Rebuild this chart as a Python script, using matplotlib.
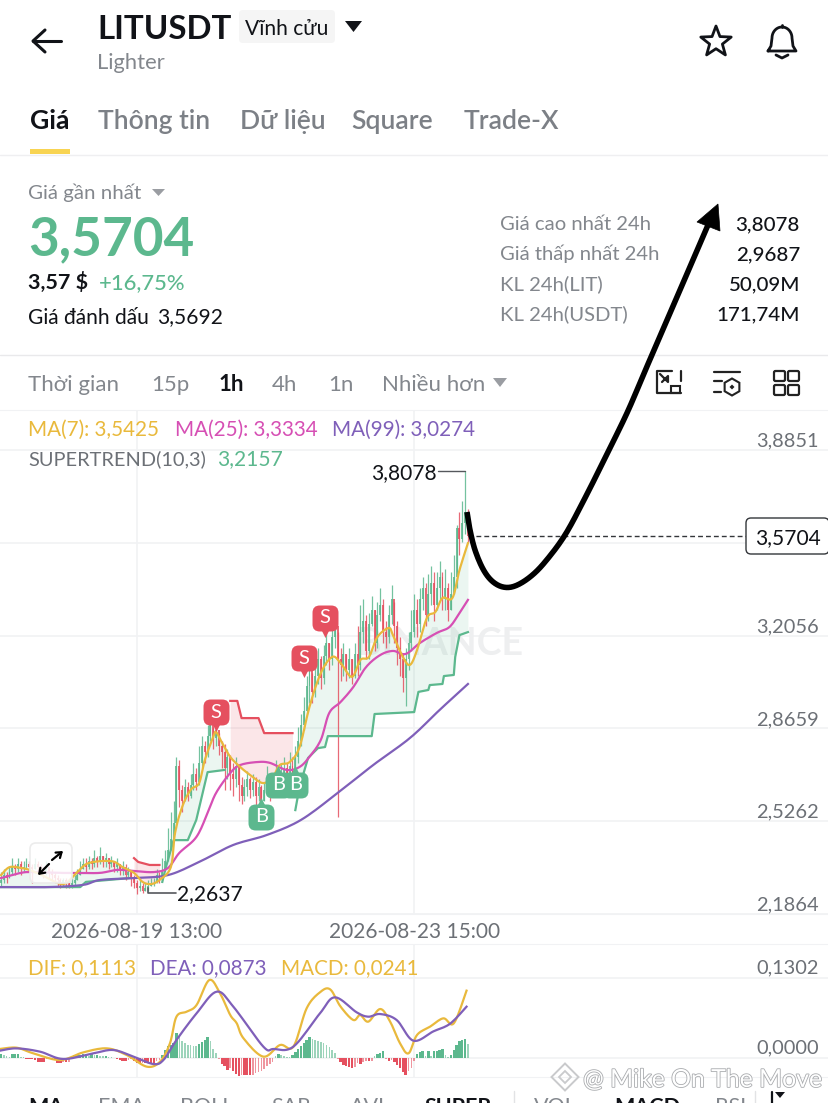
import matplotlib
matplotlib.use("Agg")
import numpy as np
import matplotlib.pyplot as plt
from matplotlib.patches import FancyBboxPatch, Rectangle, Polygon, RegularPolygon, BoxStyle
from matplotlib.path import Path
import matplotlib.patheffects as pe

plt.rcParams['font.family'] = ['Lato', 'Noto Sans', 'DejaVu Sans']

closes = [2.31,2.33,2.32,2.34,2.36,2.35,2.37,2.35,2.36,2.37,
2.36,2.35,2.37,2.36,2.35,2.34,2.36,2.34,2.33,2.32,
2.31,2.30,2.31,2.30,2.29,2.30,2.31,2.33,2.35,2.37,
2.36,2.38,2.37,2.39,2.38,2.40,2.38,2.39,2.37,2.38,
2.36,2.37,2.35,2.36,2.33,2.34,2.32,2.30,2.28,2.29,
2.27,2.28,2.29,2.30,2.30,2.33,2.32,2.34,2.38,2.42,
2.46,2.52,2.73,2.64,2.60,2.65,2.62,2.66,2.70,2.67,
2.74,2.80,2.78,2.84,2.88,2.83,2.86,2.80,2.78,2.72,
2.76,2.70,2.68,2.73,2.66,2.62,2.65,2.68,2.64,2.67,
2.62,2.65,2.60,2.64,2.68,2.63,2.66,2.70,2.66,2.70,
2.72,2.68,2.73,2.70,2.76,2.82,2.88,2.93,3.02,3.08,
3.00,3.06,3.12,3.05,3.13,3.18,3.12,3.20,3.24,3.12,
3.10,3.14,3.08,3.12,3.06,3.14,3.10,3.22,3.26,3.15,
3.25,3.30,3.18,3.28,3.32,3.22,3.20,3.28,3.34,3.24,
3.16,3.12,3.05,3.12,3.18,3.22,3.30,3.25,3.34,3.38,
3.28,3.36,3.40,3.32,3.38,3.42,3.34,3.38,3.30,3.36,
3.42,3.60,3.56,3.62,3.66,3.57]
highs = [2.34,2.35,2.34,2.36,2.39,2.37,2.39,2.38,2.38,2.39,
2.38,2.37,2.39,2.38,2.37,2.36,2.38,2.36,2.35,2.34,
2.33,2.32,2.32,2.32,2.31,2.32,2.33,2.35,2.38,2.39,
2.39,2.40,2.39,2.42,2.40,2.43,2.40,2.41,2.39,2.40,
2.38,2.39,2.37,2.38,2.37,2.36,2.34,2.33,2.31,2.31,
2.30,2.30,2.31,2.32,2.32,2.35,2.34,2.39,2.42,2.50,
2.56,2.60,2.76,2.75,2.66,2.68,2.67,2.70,2.74,2.72,
2.80,2.84,2.82,2.88,2.90,2.87,2.89,2.85,2.82,2.81,
2.79,2.77,2.74,2.76,2.73,2.69,2.68,2.71,2.69,2.70,
2.69,2.68,2.66,2.67,2.73,2.68,2.70,2.75,2.71,2.74,
2.76,2.74,2.78,2.76,2.80,2.87,2.92,2.98,3.06,3.12,
3.07,3.11,3.16,3.13,3.17,3.23,3.18,3.24,3.30,3.22,
3.16,3.18,3.14,3.16,3.12,3.18,3.24,3.32,3.34,3.28,
3.29,3.35,3.30,3.33,3.38,3.34,3.26,3.32,3.39,3.33,
3.26,3.20,3.14,3.16,3.22,3.30,3.36,3.34,3.38,3.42,
3.40,3.43,3.46,3.44,3.44,3.48,3.44,3.45,3.40,3.44,
3.50,3.61,3.66,3.70,3.8078,3.67]
lows = [2.29,2.30,2.30,2.32,2.33,2.33,2.34,2.33,2.34,2.35,
2.34,2.30,2.35,2.34,2.33,2.32,2.33,2.32,2.31,2.30,
2.29,2.28,2.29,2.28,2.28,2.28,2.29,2.31,2.33,2.35,
2.34,2.35,2.35,2.36,2.36,2.37,2.36,2.36,2.35,2.36,
2.34,2.34,2.33,2.33,2.31,2.32,2.29,2.28,2.26,2.27,
2.2637,2.27,2.27,2.29,2.29,2.30,2.30,2.31,2.35,2.38,
2.42,2.48,2.50,2.58,2.56,2.60,2.60,2.61,2.64,2.64,
2.66,2.72,2.74,2.76,2.82,2.79,2.80,2.77,2.72,2.64,
2.68,2.64,2.62,2.65,2.60,2.59,2.60,2.62,2.61,2.62,
2.58,2.60,2.57,2.60,2.62,2.60,2.62,2.64,2.63,2.65,
2.66,2.65,2.67,2.66,2.70,2.74,2.80,2.86,2.92,2.96,
2.96,2.98,3.03,3.01,3.03,3.10,3.08,3.10,3.16,2.54,
3.04,3.06,3.04,3.05,3.03,3.05,3.06,3.08,3.18,3.12,
3.12,3.24,3.15,3.16,3.26,3.18,3.16,3.18,3.25,3.18,
3.10,3.06,3.00,2.95,3.08,3.15,3.20,3.20,3.22,3.30,
3.24,3.26,3.32,3.26,3.30,3.34,3.30,3.30,3.26,3.30,
3.36,3.38,3.50,3.55,3.58,3.55]

ma7_i = [0,3,7,10,15,20,23,27,31,39,43,47,50,53,56,60,61.5,64,67,70,72,75,76,78,81,84.5,88,92.5,96,98.5,102,105.5,109,113,117,120,124,127,130,133,137,138.5,142,144.5,147,150.5,153.5,156,159.5,162,165]
ma7_p = [2.329,2.358,2.355,2.348,2.326,2.300,2.300,2.340,2.373,2.380,2.358,2.337,2.304,2.296,2.311,2.358,2.483,2.578,2.641,2.666,2.750,2.835,2.853,2.816,2.762,2.725,2.696,2.666,2.688,2.732,2.743,2.798,2.945,3.069,3.128,3.106,3.055,3.117,3.128,3.201,3.234,3.208,3.128,3.099,3.153,3.271,3.293,3.344,3.344,3.446,3.545]
ma25_i = [0,7,11,20,27,35,41,47,54,59,63,69,73,76,81,84.5,90.5,95,101,105.5,109,113,116,120,124.5,129,134,138.5,143,148,154,158.5,162,165]
ma25_p = [2.318,2.337,2.340,2.337,2.337,2.337,2.348,2.344,2.340,2.355,2.410,2.468,2.556,2.630,2.703,2.732,2.743,2.740,2.714,2.725,2.762,2.824,2.923,2.963,3.018,3.091,3.135,3.150,3.139,3.179,3.216,3.238,3.289,3.337]
ma99_i = [0,17,29,35,47,59,70,82,94,106,119,131.5,144.5,155,165]
ma99_p = [2.285,2.285,2.293,2.311,2.318,2.329,2.377,2.439,2.476,2.531,2.630,2.732,2.831,2.934,3.029]

st_green = [([0,28,30,45.6],[2.285,2.285,2.304,2.318]),
 ([57,58,61,66,69,73,79],[2.304,2.348,2.457,2.457,2.531,2.706,2.714]),
 ([104,105.5,108.5,112,114.5,115.5,131,132,146,147.5,151,151.5,156,156.5,160,160.5,162,165],
  [2.567,2.652,2.758,2.794,2.798,2.838,2.838,2.919,2.926,3.0,3.007,3.025,3.029,3.058,3.062,3.128,3.208,3.219])]
st_red = [([47,48.5,52.5,56],[2.391,2.377,2.366,2.366]),
 ([81,83.5,85,91,93,103],[2.967,2.967,2.904,2.904,2.849,2.849])]

sell_i = [76, 107, 114.5]
sell_p = [2.926, 3.124, 3.271]
buy_i = [92, 98, 104]
buy_p = [2.542, 2.659, 2.659]

price_ticks = [2.1864, 2.5262, 2.8659, 3.2056, 3.5454, 3.8851]
price_labels = ['2,1864', '2,5262', '2,8659', '3,2056', None, '3,8851']
date_ticks = [48, 146]
date_labels = ['2026-08-19 13:00', '2026-08-23 15:00']
last_price = 3.5704

hist = [.0065,.0054,.0027,.0016,.0065,.0065,.0065,.0016,.0011,-.0011,
-.0016,-.0022,-.0027,-.0071,-.0071,-.0071,-.0022,-.0016,-.0016,-.0022,
-.0076,-.0076,-.0071,-.0071,-.0065,-.0011,.0054,.0054,.0054,.0065,
.0065,.0038,.0065,.0043,.0043,.0033,.0027,.0027,.0022,.0016,
.0005,-.0011,-.0033,-.0043,-.0043,-.0033,-.0022,-.0054,-.0087,-.0087,
-.0076,-.0076,-.0076,-.0076,-.0076,-.0054,-.0027,.0043,.0136,.019,
.0217,.0244,.0407,.0353,.0271,.0244,.0217,.0206,.0195,.019,
.0228,.0261,.0299,.0337,.0271,.0152,.0081,-.0016,-.0098,-.0136,
-.019,-.0163,-.0217,-.0261,-.0299,-.0271,-.0282,-.0282,-.0282,-.0271,
-.025,-.0228,-.0206,-.0185,-.013,-.0098,-.0065,.0027,.0065,.0054,
.0033,.0022,.0011,.0054,.0098,.0141,.019,.0244,.0299,.0337,
.0315,.0299,.0282,.0261,.0239,.0206,.0174,.0136,.0081,-.0016,
-.0065,-.0109,-.0136,-.0152,-.0163,-.0152,-.0081,-.0098,-.0065,-.0043,
-.0054,-.0043,.0027,.0065,.0081,.0109,-.0011,-.0043,-.0033,-.0065,
-.0109,-.0163,-.0228,-.0282,-.0217,-.0163,-.0043,.0065,.0098,.0109,
.0027,.0119,.0027,.0109,.0119,.0136,.0152,.0054,.0016,.0043,
.0136,.0217,.0271,.0299,.0315,.0228]
dif_i = [-.4,5.5,11.4,20.9,29.1,37.4,44.4,51.5,56.2,59.7,62,65.6,69.1,73.6,77.4,81,83.3,85.7,92.7,98.6,103.3,108,112.7,116.3,120,124.5,126.9,129.8,134,137.5,141,144,147,151.6,156.3,160,164.5]
dif_v = [.0147,.0168,.0076,-.0033,.0092,.0157,.0049,-.0141,-.0060,.0239,.0673,.0755,.0863,.1270,.1053,.0700,.0565,.0320,.0022,.0212,.0184,.0809,.1070,.1118,.0836,.0619,.0700,.0592,.0798,.0592,.0239,.0076,.0375,.0510,.0646,.0565,.1097]
dea_i = [-.4,5.5,13.8,22,32.6,39.7,46.8,53.8,57.4,62,69.1,76.2,82.1,92.7,96.3,103.3,112.7,118,125.7,129.8,134,139.8,145.7,152.8,158.7,164.5]
dea_v = [.0119,.0157,.0103,-.0016,.0076,.0130,.0022,-.0098,-.0033,.0293,.0727,.1080,.0836,.0185,.0147,.0184,.0727,.0988,.0743,.0673,.0716,.0619,.0282,.0434,.0559,.0836]
macd_ticks = [0.0, 0.1302]
macd_labels = ['0,0000', '0,1302']

curve_x = [467,470,475,483,492,503,515,530,545,565,585,605,627,645,658,680,708]
curve_y = [512,530,550,569,581,587,586,577,562,535,498,458,413,371,341,290,225]

GREEN = '#5cb88e'; RED = '#e5505f'; YEL = '#e9b93c'; PINK = '#d64fb4'; PUR = '#7f5fb9'
GRID = '#f1f2f4'; GREY = '#83878d'; DARK = '#6c7076'; BLACK = '#111318'

W, H = 829, 1103
fig = plt.figure(figsize=(W/100, H/100), dpi=100, facecolor='white')

def ax_px(x0, y0, x1, y1, **kw):
    return fig.add_axes([x0/W, 1-y1/H, (x1-x0)/W, (y1-y0)/H], **kw)

def xlim_i():
    return (0-1)/2.83, (W-1)/2.83

def smooth(xs, ys, n=10):
    """Catmull-Rom drawing path through the read points."""
    xs = np.asarray(xs, float); ys = np.asarray(ys, float)
    px = np.r_[xs[0], xs, xs[-1]]; py = np.r_[ys[0], ys, ys[-1]]
    t = np.linspace(0, 1, n, endpoint=False)[:, None]
    outx, outy = [], []
    for k in range(1, len(px)-2):
        for arr, out in ((px, outx), (py, outy)):
            a, b, c_, d = arr[k-1], arr[k], arr[k+1], arr[k+2]
            out.append((0.5*(2*b + (c_-a)*t + (2*a-5*b+4*c_-d)*t**2 + (3*b-a-3*c_+d)*t**3)).ravel())
    return np.r_[np.concatenate(outx), xs[-1]], np.r_[np.concatenate(outy), ys[-1]]

# ---------- main chart ----------
ax = ax_px(0, 410, W, 914)
ax.set_xlim(*xlim_i())
ax.set_ylim(2.1864, 2.1864+504/273)
ax.patch.set_alpha(0)
for s in ax.spines.values():
    s.set_visible(False)
ax.spines['bottom'].set_visible(True); ax.spines['bottom'].set_color(GRID)
ax.spines['top'].set_visible(True); ax.spines['top'].set_color(GRID)
ax.set_yticks(price_ticks); ax.set_yticklabels([])
ax.set_xticks(date_ticks); ax.set_xticklabels(date_labels, fontsize=15, color=DARK)
ax.tick_params(length=0, pad=6)
ax.grid(True, color=GRID, lw=1.2, zorder=0)
ax.set_axisbelow(True)
for t, l in zip(price_ticks, price_labels):
    if l:
        ax.annotate(l, (0.988, t), xycoords=ax.get_yaxis_transform(), xytext=(0, 6.5),
                    textcoords='offset points', ha='right', va='center', fontsize=14.4, color=DARK)
ax.text(155, 3.2056-8/273, 'BINANCE', ha='center', va='center', fontsize=27, fontweight='bold', color='#eeeff0', zorder=1)

idx = np.arange(len(closes))
opens = np.r_[2.30, closes[:-1]]
c = np.array(closes); hh = np.array(highs); ll = np.array(lows)
cols = [GREEN if a >= b else RED for a, b in zip(c, opens)]
grid_i = np.arange(0, 165.01, 0.5)
ma7_g = np.interp(grid_i, ma7_i, ma7_p)
for sx, sy in st_green:
    m = (grid_i >= sx[0]) & (grid_i <= sx[-1])
    ax.fill_between(grid_i[m], np.interp(grid_i[m], sx, sy), ma7_g[m], color=GREEN, alpha=0.12, lw=0, zorder=1.5)
for sx, sy in st_red:
    m = (grid_i >= sx[0]) & (grid_i <= sx[-1])
    ax.fill_between(grid_i[m], np.interp(grid_i[m], sx, sy), ma7_g[m], color=RED, alpha=0.14, lw=0, zorder=1.5)
ax.vlines(idx, ll, hh, colors=cols, lw=0.9, zorder=2, alpha=0.85)
ax.bar(idx, np.abs(c-opens), bottom=np.minimum(c, opens), width=0.68, color=cols, zorder=2, alpha=0.85)
for sx, sy in st_green:
    ax.plot(sx, sy, color=GREEN, lw=1.6, zorder=3, solid_joinstyle='round')
for sx, sy in st_red:
    ax.plot(sx, sy, color=RED, lw=1.6, zorder=3)
ax.plot(*smooth(ma99_i, ma99_p), color=PUR, lw=1.6, zorder=4)
ax.plot(*smooth(ma25_i, ma25_p), color=PINK, lw=1.6, zorder=4)
ax.plot(*smooth(ma7_i, ma7_p), color=YEL, lw=1.6, zorder=5)
ax.axhline(last_price, xmin=468/W, xmax=746/W, color='#33363a', lw=1, ls=(0, (3.5, 2.2)), zorder=3)

badge = BoxStyle.Round(pad=0, rounding_size=0.28)(-0.5, -0.5, 1, 1, 1)
for i, p in zip(sell_i, sell_p):
    ax.scatter([i], [p-15/273], marker='v', s=42, color=RED, zorder=8, lw=0)
    ax.scatter([i], [p], marker=badge, s=350, color=RED, zorder=8, lw=0)
    ax.text(i, p, 'S', ha='center', va='center', color='white', fontsize=14.5, zorder=9)
for i, p in zip(buy_i, buy_p):
    ax.scatter([i], [p+15/273], marker='^', s=42, color=GREEN, zorder=8, lw=0)
    ax.scatter([i], [p], marker=badge, s=350, color=GREEN, zorder=8, lw=0)
for i, p in zip(buy_i, buy_p):
    ax.text(i, p, 'B', ha='center', va='center', color='white', fontsize=14.5, zorder=10)

# ---------- MACD ----------
am = ax_px(0, 944, W, 1077)
am.set_xlim(*xlim_i())
am.set_ylim(-19/614, 114/614)
am.patch.set_alpha(0)
for s in am.spines.values():
    s.set_visible(False)
am.spines['top'].set_visible(True); am.spines['top'].set_color(GRID)
am.spines['bottom'].set_visible(True); am.spines['bottom'].set_color(GRID)
am.set_yticks(macd_ticks); am.set_yticklabels([])
am.set_xticks(date_ticks); am.set_xticklabels([])
am.tick_params(length=0)
am.grid(True, color=GRID, lw=1.2, zorder=0)
am.set_axisbelow(True)
for t, l in zip(macd_ticks, macd_labels):
    am.annotate(l, (0.988, t), xycoords=am.get_yaxis_transform(), xytext=(0, 7.5),
                textcoords='offset points', ha='right', va='center', fontsize=14.4, color=DARK)
hv = np.array(hist)
prev = np.r_[0, hv[:-1]]
for i, v, pv in zip(idx, hv, prev):
    col = GREEN if v >= 0 else RED
    grow = abs(v) >= abs(pv)
    am.bar(i, v, width=0.85 if grow else 0.55, color=col, alpha=1 if grow else 0.6, zorder=2)
am.plot(*smooth(dif_i, dif_v), color=YEL, lw=1.6, zorder=4)
am.plot(*smooth(dea_i, dea_v), color=PUR, lw=1.6, zorder=5)

# ---------- overlay in pixels ----------
ov = fig.add_axes([0, 0, 1, 1])
ov.set_xlim(0, W); ov.set_ylim(H, 0); ov.axis('off'); ov.patch.set_alpha(0)

def T(x, y, s, px, color=BLACK, weight='normal', ha='left', **kw):
    # y is the middle of the capitals; text sits on its baseline
    return ov.text(x, y+0.36*px, s, fontsize=px*0.72, color=color, fontweight=weight, ha=ha, va='baseline', **kw)

def L(xs, ys, color=BLACK, lw=1.5, **kw):
    ov.plot(xs, ys, color=color, lw=lw, solid_capstyle='round', solid_joinstyle='round', **kw)

# header
L([33, 61], [41, 41], lw=2.2); L([45, 33, 45], [30, 41, 52], lw=2.2)
T(97, 27, 'LITUSDT', 33, weight='bold')
ov.add_patch(FancyBboxPatch((240, 11), 94, 31, boxstyle='round,pad=1,rounding_size=4', fc='#f5f5f5', ec='none'))
T(287, 27, 'Vĩnh cửu', 21, ha='center')
ov.add_patch(Polygon([(345, 21), (362, 21), (353.5, 32)], fc=BLACK, ec='none'))
T(97, 61, 'Lighter', 22, color=GREY)
star = Path.unit_regular_star(5, 0.42).vertices
ov.add_patch(Polygon(np.c_[716+16*star[:, 0], 42-16*star[:, 1]], fc='none', ec=BLACK, lw=2, joinstyle='round'))
th = np.linspace(np.pi, 0, 30)
bx = np.r_[768, 771, 782+10*np.cos(th), 793, 796]
by = np.r_[51, 46, 38-11*np.sin(th), 46, 51]
L(np.r_[bx, 768], np.r_[by, 51], lw=2)
L([776, 782, 788], [55, 58, 55], lw=2); L([782, 782], [25, 27], lw=2)

# tabs
T(30, 119, 'Giá', 26.5, weight='bold')
for x, s in [(98, 'Thông tin'), (240, 'Dữ liệu'), (351, 'Square'), (464, 'Trade-X')]:
    T(x, 119, s, 26.5, color='#7c8086', weight='semibold')
ov.add_patch(Rectangle((30, 149), 40, 5, fc='#f8d452', ec='none'))
L([0, W], [154.5, 154.5], color='#efeff1', lw=1)
L([0, W], [354.5, 354.5], color='#e9e9eb', lw=1)

# price
T(28, 192, 'Giá gần nhất', 20.5, color=GREY)
ov.add_patch(Polygon([(152, 189), (165, 189), (158.5, 196)], fc='#9a9da2', ec='none'))
T(28, 236, '3,5704', 53, color=GREEN, weight='bold')
T(28, 281, '3,57 $', 21.5, weight='bold')
T(99, 281, '+16,75%', 22, color=GREEN, weight='medium')
T(28, 316, 'Giá đánh dấu', 21)
T(157, 316, '3,5692', 21)
stat_y = [223, 253, 283, 313]
for y, s, v in zip(stat_y, ['Giá cao nhất 24h', 'Giá thấp nhất 24h', 'KL 24h(LIT)', 'KL 24h(USDT)'],
                   ['3,8078', '2,9687', '50,09M', '171,74M']):
    T(500, y, s, 20.3, color=GREY)
    T(800, y, v, 20.5, ha='right', weight='medium')

# time row
for x, s, col, w in [(28, 'Thời gian', GREY, 'normal'), (151, '15p', GREY, 'normal'), (219, '1h', BLACK, 'bold'),
                     (272, '4h', GREY, 'normal'), (328, '1n', GREY, 'normal'), (382, 'Nhiều hơn', GREY, 'normal')]:
    T(x, 383, s, 22.3, color=col, weight=w)
ov.add_patch(Polygon([(493, 378), (507, 378), (500, 387)], fc='#9a9da2', ec='none'))

# toolbar icons
L([672, 657, 657, 681, 681], [371, 371, 393, 393, 393], lw=1.6, color='#222')
L([681, 681], [371, 381], lw=1.6, color='#222'); L([660, 668, 668, 662], [374, 382, 376, 382], lw=1.6, color='#222')
ov.add_patch(Rectangle((671, 386), 9, 7, fc='white', ec='#222', lw=1.5))
L([714, 740], [372, 372], lw=1.6, color='#222'); L([714, 722], [381, 381], lw=1.6, color='#222'); L([714, 721], [392, 392], lw=1.6, color='#222')
ov.add_patch(RegularPolygon((732, 387), 6, radius=8.5, fc='white', ec='#222', lw=1.5))
ov.add_patch(RegularPolygon((732, 387), 4, radius=2.5, fc='#222', ec='none'))
for gx in (774, 788):
    for gy in (371, 385):
        ov.add_patch(FancyBboxPatch((gx+1, gy+1), 9, 8, boxstyle='round,pad=1,rounding_size=1.5', fc='none', ec='#222', lw=1.6))

# legends
T(28, 428, 'MA(7): 3,5425', 20.7, color=YEL)
T(175, 428, 'MA(25): 3,3334', 20.7, color=PINK)
T(332, 428, 'MA(99): 3,0274', 20.7, color=PUR)
T(28, 458, 'SUPERTREND(10,3)', 20, color=DARK)
T(217, 458, '3,2157', 21, color=GREEN)
T(437, 472, '3,8078', 21, ha='right')
L([438, 465], [471, 471], color='#55585c', lw=1)
L([148, 148, 176], [888, 893, 893], color='#55585c', lw=1.2)
T(177, 893, '2,2637', 21)
T(28, 967, 'DIF: 0,1113', 20.7, color=YEL)
T(150, 967, 'DEA: 0,0873', 20.7, color=PUR)
T(281, 967, 'MACD: 0,0241', 20.7, color=YEL)

# last price tag
ov.add_patch(FancyBboxPatch((747, 519), 81, 34, boxstyle='round,pad=1,rounding_size=5', fc='white', ec='#33363a', lw=1, zorder=6))
T(787.5, 537, '3,5704', 21, ha='center', zorder=7)

# expand icon
ov.add_patch(FancyBboxPatch((31, 844), 40, 38, boxstyle='round,pad=1,rounding_size=6', fc=(1, 1, 1, 0.85), ec='#ececec', lw=1.2, zorder=6))
for (x0, y0, x1, y1) in [(52, 860, 63, 851), (49, 864, 38, 875)]:
    ov.annotate('', (x1, y1), (x0, y0), arrowprops=dict(arrowstyle='->,head_length=0.35,head_width=0.25', lw=1.6, color='black', shrinkA=0, shrinkB=0), zorder=7)

# hand drawn arrow
ov.plot(*smooth(curve_x, curve_y), color='black', lw=4.0, solid_capstyle='butt', solid_joinstyle='round', zorder=10)
ov.add_patch(Polygon([(718, 204), (697, 222), (720, 231)], fc='black', ec='black', lw=0.5, zorder=10))

# bottom tabs
for x, s, col, w in [(28, 'MA', BLACK, 'bold'), (98, 'EMA', GREY, 'normal'), (180, 'BOLL', GREY, 'normal'),
                     (271, 'SAR', GREY, 'normal'), (350, 'AVL', GREY, 'normal'), (425, 'SUPER', BLACK, 'bold'),
                     (534, 'VOL', GREY, 'normal'), (614, 'MACD', BLACK, 'bold'), (715, 'RSI', GREY, 'normal')]:
    T(x, 1105, s, 21.5, color=col, weight=w, clip_on=True)
L([514, 514], [1091, 1103], color='#e2e3e5', lw=1)
L([755, 755], [1091, 1103], color='#e2e3e5', lw=1)
L([772, 772], [1092, 1103], lw=1.6)
ov.add_patch(Polygon([(775, 1092), (785, 1092), (780, 1098)], fc=BLACK, ec='none'))

# watermark
wm = T(583, 1078, '@ Mike On The Move', 24.8, color='white')
wm.set_path_effects([pe.withStroke(linewidth=1.2, foreground='#a9abae')])
for r, lw_ in [(13.5, 1.4), (6, 1.3)]:
    ov.add_patch(RegularPolygon((565, 1077), 4, radius=r, fc='none', ec='#c9cacc', lw=lw_, orientation=0))

fig.savefig('out.png', dpi=100, facecolor='white')
